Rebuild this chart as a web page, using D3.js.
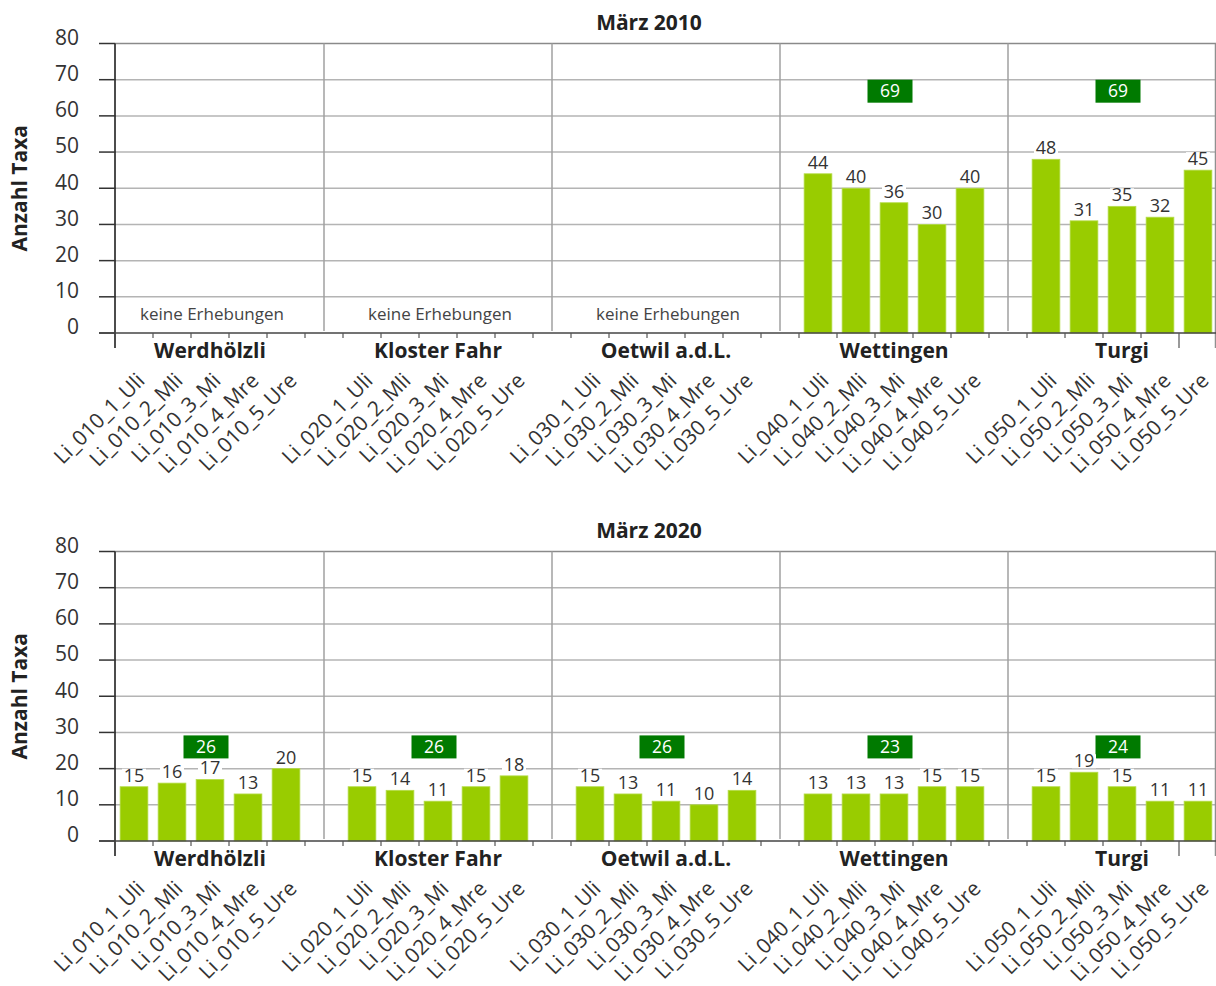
<!DOCTYPE html>
<html>
<head>
<meta charset="utf-8">
<script src="https://cdn.jsdelivr.net/npm/d3@7"></script>
<style>
  body { margin: 0; background: #fff; }
  svg { display: block; font-family: "Open Sans", "Noto Sans", sans-serif; }
</style>
</head>
<body>
<svg id="svg" width="1216" height="986"></svg>
<script>
// data
var sites = ['Werdhölzli', 'Kloster Fahr', 'Oetwil a.d.L.', 'Wettingen', 'Turgi'];
var siteCodes = ['010', '020', '030', '040', '050'];
var stations = ['1_Uli', '2_Mli', '3_Mi', '4_Mre', '5_Ure'];
var yTicks = [0, 10, 20, 30, 40, 50, 60, 70, 80];

var titles = ['März 2010', 'März 2020'];

// null = keine Erhebungen
var values2010 = [
    null,
    null,
    null,
    [44, 40, 36, 30, 40],
    [48, 31, 35, 32, 45]
];
var totals2010 = [null, null, null, 69, 69];

var values2020 = [
    [15, 16, 17, 13, 20],
    [15, 14, 11, 15, 18],
    [15, 13, 11, 10, 14],
    [13, 13, 13, 15, 15],
    [15, 19, 15, 11, 11]
];
var totals2020 = [26, 26, 26, 23, 24];

var width = 1216;
var marginLeft = 115;
var plotRight = 1217;
var plotTop = 43.5;
var plotH = 289.5;
var panelOffset = 508;

// category slots: 5 stations per site + one empty slot between sites
var slots = [];
sites.forEach(function (s, i) {
    stations.forEach(function (st) {
        slots.push('Li_' + siteCodes[i] + '_' + st);
    });
    if (i < sites.length - 1) slots.push('gap' + i);
});

var x = d3.scaleBand()
    .domain(slots)
    .range([marginLeft, plotRight])
    .paddingInner(0.27)
    .paddingOuter(0.135);

var step = x.step();
function slotCenter(k) { return x(k) + x.bandwidth() / 2; }
function siteCenter(i) {
    return (slotCenter('Li_' + siteCodes[i] + '_' + stations[0]) + slotCenter('Li_' + siteCodes[i] + '_' + stations[4])) / 2;
}

var svg = d3.select('svg');

function drawPanel(p, title, values, totals) {
    var top = plotTop + p * panelOffset;
    var y = d3.scaleLinear().domain([0, 80]).range([top + plotH, top]);
    var base = y(0);
    var g = svg.append('g');

    // gridlines
    g.selectAll('.grid')
        .data(yTicks.filter(function (d) { return d > 0; }))
        .enter()
        .append('line')
        .attr('x1', marginLeft)
        .attr('x2', plotRight - 1)
        .attr('y1', function (d) { return y(d); })
        .attr('y2', function (d) { return y(d); })
        .attr('stroke', function (d) { return d == 80 ? '#8a8a8a' : '#b4b4b4'; })
        .attr('stroke-width', 1.5);

    // vertical separators between sites
    g.selectAll('.sep')
        .data(slots.filter(function (d) { return d.indexOf('gap') == 0; }))
        .enter()
        .append('line')
        .attr('x1', function (d) { return x(d) - step * 0.135 + step / 2; })
        .attr('x2', function (d) { return x(d) - step * 0.135 + step / 2; })
        .attr('y1', top)
        .attr('y2', base - 2)
        .attr('stroke', '#a0a0a0')
        .attr('stroke-width', 1.5);

    // right border
    g.append('line')
        .attr('x1', plotRight - 1.5).attr('x2', plotRight - 1.5)
        .attr('y1', top).attr('y2', base + 15)
        .attr('stroke', '#909090')
        .attr('stroke-width', 1.5);

    // title
    g.append('text')
        .attr('x', 649)
        .attr('y', top - 13.5)
        .attr('text-anchor', 'middle')
        .attr('font-size', 21)
        .attr('font-weight', 'bold')
        .attr('fill', '#222')
        .text(title);

    // y axis title
    g.append('text')
        .attr('transform', 'translate(27,' + (top + plotH / 2) + ') rotate(-90)')
        .attr('text-anchor', 'middle')
        .attr('font-size', 21)
        .attr('font-weight', 'bold')
        .attr('fill', '#222')
        .text('Anzahl Taxa');

    // bars
    var bars = [];
    values.forEach(function (vals, i) {
        if (!vals) return;
        vals.forEach(function (v, j) {
            bars.push({ key: 'Li_' + siteCodes[i] + '_' + stations[j], value: v });
        });
    });

    g.selectAll('.bar')
        .data(bars)
        .enter()
        .append('rect')
        .attr('x', function (d) { return x(d.key); })
        .attr('y', function (d) { return y(d.value); })
        .attr('width', x.bandwidth())
        .attr('height', function (d) { return base - y(d.value); })
        .attr('fill', '#99cc00')
        .attr('stroke', '#b5dc4a')
        .attr('stroke-width', 0.8);

    // total taxa boxes, all on one row, kept below the 70 line
    var boxTop = Math.max(y(d3.max(totals)) - 11.5, y(70));
    var tot = g.selectAll('.tot')
        .data(totals.map(function (t, i) { return { i: i, value: t }; }).filter(function (d) { return d.value != null; }))
        .enter()
        .append('g')
        .attr('transform', function (d) { return 'translate(' + (siteCenter(d.i) - 4) + ',' + boxTop + ')'; });
    tot.append('rect')
        .attr('x', -22.5)
        .attr('y', 0)
        .attr('width', 45)
        .attr('height', 23)
        .attr('fill', '#007a00');
    tot.append('text')
        .attr('text-anchor', 'middle')
        .attr('y', 11.5)
        .attr('dy', '0.35em')
        .attr('font-size', 17.5)
        .attr('fill', '#fff')
        .text(function (d) { return d.value; });

    // value labels with white background
    var vl = g.selectAll('.vlab')
        .data(bars)
        .enter()
        .append('g')
        .attr('transform', function (d) { return 'translate(' + slotCenter(d.key) + ',' + (y(d.value) - 5) + ')'; });
    vl.append('rect')
        .attr('x', -12)
        .attr('y', -13)
        .attr('width', 24)
        .attr('height', 14)
        .attr('fill', '#fff');
    vl.append('text')
        .attr('text-anchor', 'middle')
        .attr('font-size', 18)
        .attr('fill', '#333')
        .text(function (d) { return d.value; });

    // "keine Erhebungen"
    g.selectAll('.none')
        .data(sites.filter(function (s, i) { return !values[i]; }))
        .enter()
        .append('text')
        .attr('x', function (d) { return siteCenter(sites.indexOf(d)) + 2; })
        .attr('y', y(0) - 13)
        .attr('text-anchor', 'middle')
        .attr('font-size', 17)
        .attr('fill', '#444')
        .text('keine Erhebungen');

    // y axis
    g.append('line')
        .attr('x1', marginLeft).attr('x2', marginLeft)
        .attr('y1', top).attr('y2', base + 15)
        .attr('stroke', '#111')
        .attr('stroke-width', 1.5);

    g.selectAll('.ytick')
        .data(yTicks)
        .enter()
        .append('line')
        .attr('x1', marginLeft - 16)
        .attr('x2', marginLeft)
        .attr('y1', function (d) { return y(d); })
        .attr('y2', function (d) { return y(d); })
        .attr('stroke', '#333')
        .attr('stroke-width', 1.5);

    g.selectAll('.ylab')
        .data(yTicks)
        .enter()
        .append('text')
        .attr('x', 79)
        .attr('y', function (d) { return y(d) - 6; })
        .attr('dy', '0.35em')
        .attr('text-anchor', 'end')
        .attr('font-size', 21)
        .attr('fill', '#333')
        .text(function (d) { return d; });

    // x axis
    g.append('line')
        .attr('x1', marginLeft - 16).attr('x2', plotRight)
        .attr('y1', base).attr('y2', base)
        .attr('stroke', '#444')
        .attr('stroke-width', 1.5);

    g.selectAll('.xtick')
        .data(d3.range(1, slots.length))
        .enter()
        .append('line')
        .attr('x1', function (d) { return marginLeft + d * step; })
        .attr('x2', function (d) { return marginLeft + d * step; })
        .attr('y1', base)
        .attr('y2', function (d) { return d == slots.length - 1 ? base + 15 : base + 5; })
        .attr('stroke', '#555')
        .attr('stroke-width', 1.2);

    // site labels
    g.selectAll('.site')
        .data(sites)
        .enter()
        .append('text')
        .attr('x', function (d, i) { return siteCenter(i); })
        .attr('y', base + 25)
        .attr('text-anchor', 'middle')
        .attr('font-size', 21)
        .attr('font-weight', 'bold')
        .attr('fill', '#222')
        .text(function (d) { return d; });

    // station labels
    g.selectAll('.xlab')
        .data(slots.filter(function (d) { return d.indexOf('gap') != 0; }))
        .enter()
        .append('text')
        .attr('transform', function (d) { return 'translate(' + (slotCenter(d) + 12) + ',' + (base + 49) + ') rotate(-45)'; })
        .attr('text-anchor', 'end')
        .attr('font-size', 21)
        .attr('fill', '#333')
        .text(function (d) { return d; });
}

drawPanel(0, titles[0], values2010, totals2010);
drawPanel(1, titles[1], values2020, totals2020);
</script>
</body>
</html>
